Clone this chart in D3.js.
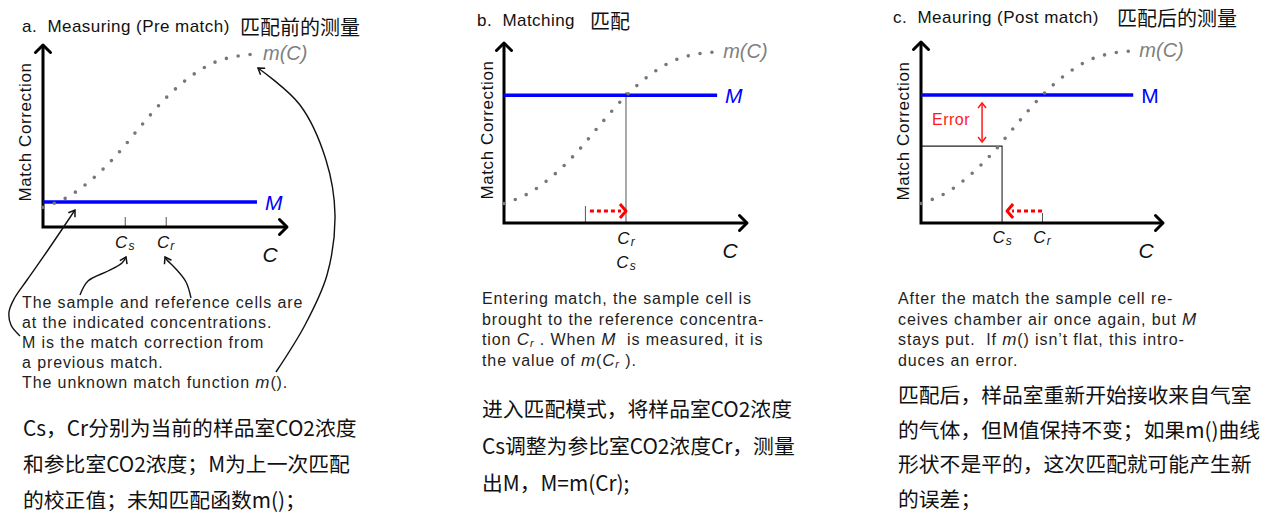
<!DOCTYPE html>
<html><head><meta charset="utf-8">
<script src="https://cdn.jsdelivr.net/npm/d3@7"></script>
<style>
body{margin:0;background:#fff;}
svg{display:block;}
text{white-space:pre;}
</style></head><body>
<svg id="chart" width="1272" height="513"></svg>
<script>
// ---------------- data ----------------
const curveC = [0, 1, 2, 3, 4, 5, 6, 7, 8, 8.65];
const curveM = [1.08, 1.64, 2.61, 3.93, 5.53, 7.04, 8.22, 9.03, 9.4, 9.5];
const panelKeys = ["a", "b", "c"];
const measuredM = [1.37, 7.1, 7.07];
const mLineEnd = [8.77, 8.77, 8.77];
const sampleC = [3.35, 5.02, 3.35];
const refC = [5.03, 5.02, 5.0];
const prevSampleC = [null, 3.33, null];
const errorLevel = [null, null, 4.25];
const titlesEn = ["a.  Measuring (Pre match)", "b.  Matching", "c.  Meauring (Post match)"];
const titlesZh = ["匹配前的测量", "匹配", "匹配后的测量"];
const yAxisLabel = "Match Correction";
const xAxisLabel = "C";
const curveLabel = "m(C)";
const mLabel = "M";
const errorLabel = "Error";
const notesEnA = [
  [["The sample and reference cells are"]],
  [["at the indicated concentrations."]],
  [["M is the match correction from"]],
  [["a previous match."]],
  [["The unknown match function "], ["m", "i"], ["()."]]
];
const notesEnB = [
  [["Entering match, the sample cell is"]],
  [["brought to the reference concentra-"]],
  [["tion "], ["C", "i"], ["r", "sub"], [" . When "], ["M", "i"], ["  is measured, it is"]],
  [["the value of "], ["m", "i"], ["("], ["C", "i"], ["r", "sub"], [" )."]]
];
const notesEnC = [
  [["After the match the sample cell re-"]],
  [["ceives chamber air once again, but "], ["M", "i"]],
  [["stays put.  If "], ["m", "i"], ["() isn\u2019t flat, this intro-"]],
  [["duces an error."]]
];
const notesZhA = ["Cs，Cr分别为当前的样品室CO2浓度", "和参比室CO2浓度；M为上一次匹配", "的校正值；未知匹配函数m()；"];
const notesZhB = ["进入匹配模式，将样品室CO2浓度", "Cs调整为参比室CO2浓度Cr，测量", "出M，M=m(Cr);"];
const notesZhC = ["匹配后，样品室重新开始接收来自气室", "的气体，但M值保持不变；如果m()曲线", "形状不是平的，这次匹配就可能产生新", "的误差；"];

// ---------------- layout ----------------
const layout = [
  {x0: 43, x1: 287, y0: 227, y1: 45, tX: 22, tY: 26, zhX: 240, yl: [25, 132], tick: 10,
   enX: 22, enY: 302, enDy: 20, zhTX: 23, zhY: 427, zhDy: 36, mItalic: true},
  {x0: 504, x1: 747, y0: 223, y1: 43, tX: 477, tY: 20, zhX: 590, yl: [487, 130], tick: 17,
   enX: 482, enY: 298, enDy: 20.5, zhTX: 482, zhY: 408, zhDy: 37, mItalic: true},
  {x0: 921, x1: 1163, y0: 223, y1: 42, tX: 893, tY: 17, zhX: 1117, yl: [903, 131], tick: 10,
   enX: 898, enY: 298, enDy: 20.5, zhTX: 898, zhY: 394, zhDy: 34.7, mItalic: false}
];
const notesEn = [notesEnA, notesEnB, notesEnC];
const notesZh = [notesZhA, notesZhB, notesZhC];

const LAT = "'Liberation Sans', Arial, Helvetica, sans-serif";
const CJK = "'Noto Sans CJK SC', 'Noto Sans', sans-serif";

const svg = d3.select("#chart");
svg.append("rect").attr("width", 1272).attr("height", 513).attr("fill", "#fff");
const defs = svg.append("defs");
defs.append("marker").attr("id", "ahK").attr("viewBox", "-8 -6 10 12")
  .attr("refX", 0).attr("refY", 0).attr("markerWidth", 10).attr("markerHeight", 12)
  .attr("markerUnits", "userSpaceOnUse").attr("orient", "auto")
  .append("path").attr("d", "M-6,-4L0,0L-6,4").attr("fill", "none")
  .attr("stroke", "#111").attr("stroke-width", 1.5);
defs.append("marker").attr("id", "ahR").attr("viewBox", "-8 -6 10 12")
  .attr("refX", 0).attr("refY", 0).attr("markerWidth", 10).attr("markerHeight", 12)
  .attr("markerUnits", "userSpaceOnUse").attr("orient", "auto-start-reverse")
  .append("path").attr("d", "M-5,-4L0,0L-5,4").attr("fill", "none")
  .attr("stroke", "#ff1a1a").attr("stroke-width", 1.5);

const curveData = d3.zip(curveC, curveM);

function subLabel(g, cx, cy, sub) {
  const t = g.append("text").attr("x", cx).attr("y", cy).attr("text-anchor", "middle")
    .attr("dominant-baseline", "central").attr("font-family", LAT).attr("fill", "#111");
  t.append("tspan").attr("font-size", 17).attr("font-style", "italic").text("C");
  t.append("tspan").attr("font-size", 12).attr("font-style", "italic").attr("dx", 1).attr("dy", 4).text(sub);
}

panelKeys.forEach((k, i) => {
  const L = layout[i];
  const x = d3.scaleLinear().domain([0, 10]).range([L.x0, L.x1]);
  const y = d3.scaleLinear().domain([0, 10]).range([L.y0, L.y1]);
  const g = svg.append("g").attr("class", "panel-" + k);

  // title
  const tt = g.append("text").attr("x", L.tX).attr("y", L.tY).attr("dominant-baseline", "central").attr("fill", "#111");
  tt.append("tspan").attr("font-family", LAT).attr("font-size", 17).attr("letter-spacing", 0.45).text(titlesEn[i]);
  tt.append("tspan").attr("x", L.zhX).attr("font-family", CJK).attr("font-size", 20).text(titlesZh[i]);

  // ticks via axis
  const ticks = i === 0 ? [sampleC[0], refC[0]] : i === 1 ? [prevSampleC[1]] : [refC[2]];
  const ax = g.append("g").attr("transform", `translate(0,${y(0)})`)
    .call(d3.axisTop(x).tickValues(ticks).tickSizeInner(L.tick).tickSizeOuter(0).tickFormat(""));
  ax.select(".domain").remove();
  ax.selectAll("line").attr("stroke", "#555").attr("stroke-width", 1);

  // thin guide lines
  if (i === 1) {
    g.append("line").attr("x1", x(refC[1])).attr("x2", x(refC[1]))
      .attr("y1", y(measuredM[1]) - 3).attr("y2", y(0)).attr("stroke", "#555").attr("stroke-width", 1);
  }
  if (i === 2) {
    g.append("path").attr("d", `M${x(0)},${y(errorLevel[2])}H${x(sampleC[2])}V${y(0)}`)
      .attr("fill", "none").attr("stroke", "#222").attr("stroke-width", 1.1);
  }

  // axes lines
  g.append("path").attr("d", `M${x(0)},${y(10)}V${y(0)}H${x(10)}`)
    .attr("fill", "none").attr("stroke", "#000").attr("stroke-width", 3).attr("stroke-linejoin", "miter");
  g.append("path").attr("d", `M${x(0) - 7.5},${y(10) + 7.5}L${x(0)},${y(10)}L${x(0) + 7.5},${y(10) + 7.5}`)
    .attr("fill", "none").attr("stroke", "#000").attr("stroke-width", 3).attr("stroke-linejoin", "round").attr("stroke-linecap", "round");
  g.append("path").attr("d", `M${x(10) - 7.5},${y(0) - 7.5}L${x(10)},${y(0)}L${x(10) - 7.5},${y(0) + 7.5}`)
    .attr("fill", "none").attr("stroke", "#000").attr("stroke-width", 3).attr("stroke-linejoin", "round").attr("stroke-linecap", "round");

  // M line
  g.append("line").attr("x1", x(0)).attr("x2", x(mLineEnd[i])).attr("y1", y(measuredM[i])).attr("y2", y(measuredM[i]))
    .attr("stroke", "#0000ff").attr("stroke-width", 3.5);

  // dotted m(C) curve
  g.append("path").datum(curveData)
    .attr("d", d3.line().x(d => x(d[0])).y(d => y(d[1])).curve(d3.curveMonotoneX))
    .attr("fill", "none").attr("stroke", "#777").attr("stroke-width", 3.6)
    .attr("stroke-linecap", "round").attr("stroke-dasharray", "0 12");

  // labels
  g.append("text").attr("x", x(mLineEnd[i]) + 8).attr("y", y(measuredM[i]))
    .attr("dominant-baseline", "central").attr("font-family", LAT).attr("font-size", 21)
    .attr("font-style", L.mItalic ? "italic" : "normal").attr("fill", "#0000ff").text(mLabel);
  g.append("text").attr("x", x(curveC[curveC.length - 1]) + 9).attr("y", y(curveM[curveM.length - 1]) - 1)
    .attr("dominant-baseline", "central").attr("font-family", LAT).attr("font-size", 20)
    .attr("font-style", "italic").attr("fill", "#7f7f7f").text(curveLabel);
  g.append("text").attr("x", x(10) - 17).attr("y", y(0) + 27).attr("text-anchor", "middle")
    .attr("dominant-baseline", "central").attr("font-family", LAT).attr("font-size", 21)
    .attr("font-style", "italic").attr("fill", "#111").text(xAxisLabel);
  g.append("text").attr("transform", `translate(${L.yl[0]},${L.yl[1]}) rotate(-90)`)
    .attr("text-anchor", "middle").attr("dominant-baseline", "central").attr("font-family", LAT)
    .attr("font-size", 17).attr("letter-spacing", 0.6).attr("fill", "#111").text(yAxisLabel);

  if (i === 0) {
    subLabel(g, x(sampleC[0]), y(0) + 15, "s");
    subLabel(g, x(refC[0]), y(0) + 15, "r");
  } else if (i === 1) {
    subLabel(g, x(refC[1]), y(0) + 15, "r");
    subLabel(g, x(sampleC[1]), y(0) + 39, "s");
  } else {
    subLabel(g, x(sampleC[2]), y(0) + 14, "s");
    subLabel(g, x(refC[2]), y(0) + 14, "r");
  }

  // red dotted shift arrows
  if (i === 1) {
    const ay = y(0) - 12, xs = x(prevSampleC[1]) + 5, xe = x(refC[1]);
    g.append("line").attr("x1", xs).attr("x2", xe - 5).attr("y1", ay).attr("y2", ay)
      .attr("stroke", "#ff0000").attr("stroke-width", 3).attr("stroke-dasharray", "4 3");
    g.append("path").attr("d", `M${xe - 6},${ay - 7}L${xe},${ay}L${xe - 6},${ay + 7}`)
      .attr("fill", "none").attr("stroke", "#ff0000").attr("stroke-width", 3).attr("stroke-linejoin", "round");
  }
  if (i === 2) {
    const ay = y(0) - 12, xs = x(refC[2]), xe = x(sampleC[2]) + 5;
    g.append("line").attr("x1", xs).attr("x2", xe + 5).attr("y1", ay).attr("y2", ay)
      .attr("stroke", "#ff0000").attr("stroke-width", 3).attr("stroke-dasharray", "4 3");
    g.append("path").attr("d", `M${xe + 6},${ay - 7}L${xe},${ay}L${xe + 6},${ay + 7}`)
      .attr("fill", "none").attr("stroke", "#ff0000").attr("stroke-width", 3).attr("stroke-linejoin", "round");
    // error arrow
    const ex = x(sampleC[2]) - 20;
    g.append("line").attr("x1", ex).attr("x2", ex).attr("y1", y(measuredM[2]) + 8).attr("y2", y(errorLevel[2]) - 4)
      .attr("stroke", "#ff1a1a").attr("stroke-width", 1.5)
      .attr("marker-start", "url(#ahR)").attr("marker-end", "url(#ahR)");
    g.append("text").attr("x", ex - 12).attr("y", (y(measuredM[2]) + y(errorLevel[2])) / 2 - 1)
      .attr("text-anchor", "end").attr("dominant-baseline", "central").attr("font-family", LAT)
      .attr("font-size", 16).attr("letter-spacing", 0.5).attr("fill", "#ff1a1a").text(errorLabel);
  }

  // English notes
  notesEn[i].forEach((line, j) => {
    const t = g.append("text").attr("x", L.enX).attr("y", L.enY + j * L.enDy)
      .attr("dominant-baseline", "central").attr("font-family", LAT).attr("font-size", 16)
      .attr("letter-spacing", 0.9).attr("fill", "#1e1e1e");
    let prevSub = false;
    line.forEach(seg => {
      const s = t.append("tspan").text(seg[0]);
      if (seg[1] === "i") s.attr("font-style", "italic").attr("font-size", 17);
      if (seg[1] === "sub") s.attr("font-style", "italic").attr("font-size", 11).attr("dy", 4);
      else if (prevSub) s.attr("dy", -4);
      prevSub = seg[1] === "sub";
    });
  });

  // Chinese notes
  notesZh[i].forEach((line, j) => {
    g.append("text").attr("x", L.zhTX).attr("y", L.zhY + j * L.zhDy)
      .attr("dominant-baseline", "central").attr("font-family", CJK).attr("font-size", 20.8)
      .attr("fill", "#111").text(line);
  });
});

// ---------------- annotation arrows (panel a) ----------------
const ann = svg.append("g").attr("fill", "none").attr("stroke", "#111").attr("stroke-width", 1.4);
const annLine = d3.line().curve(d3.curveCatmullRom.alpha(0.5));
const annPaths = [
  [[20, 336], [11, 325], [9, 312], [14, 299], [27, 280], [48, 250], [75, 210]],
  [[80, 295], [88, 281], [108, 271], [122, 263], [126, 257]],
  [[191, 298], [186, 282], [175, 268], [167, 260], [165, 257]],
  [[276, 372], [305, 325], [327, 275], [335, 215], [326, 160], [300, 105], [258, 68]]
];
annPaths.forEach(p => ann.append("path").attr("d", annLine(p)).attr("marker-end", "url(#ahK)"));
</script>
</body></html>
